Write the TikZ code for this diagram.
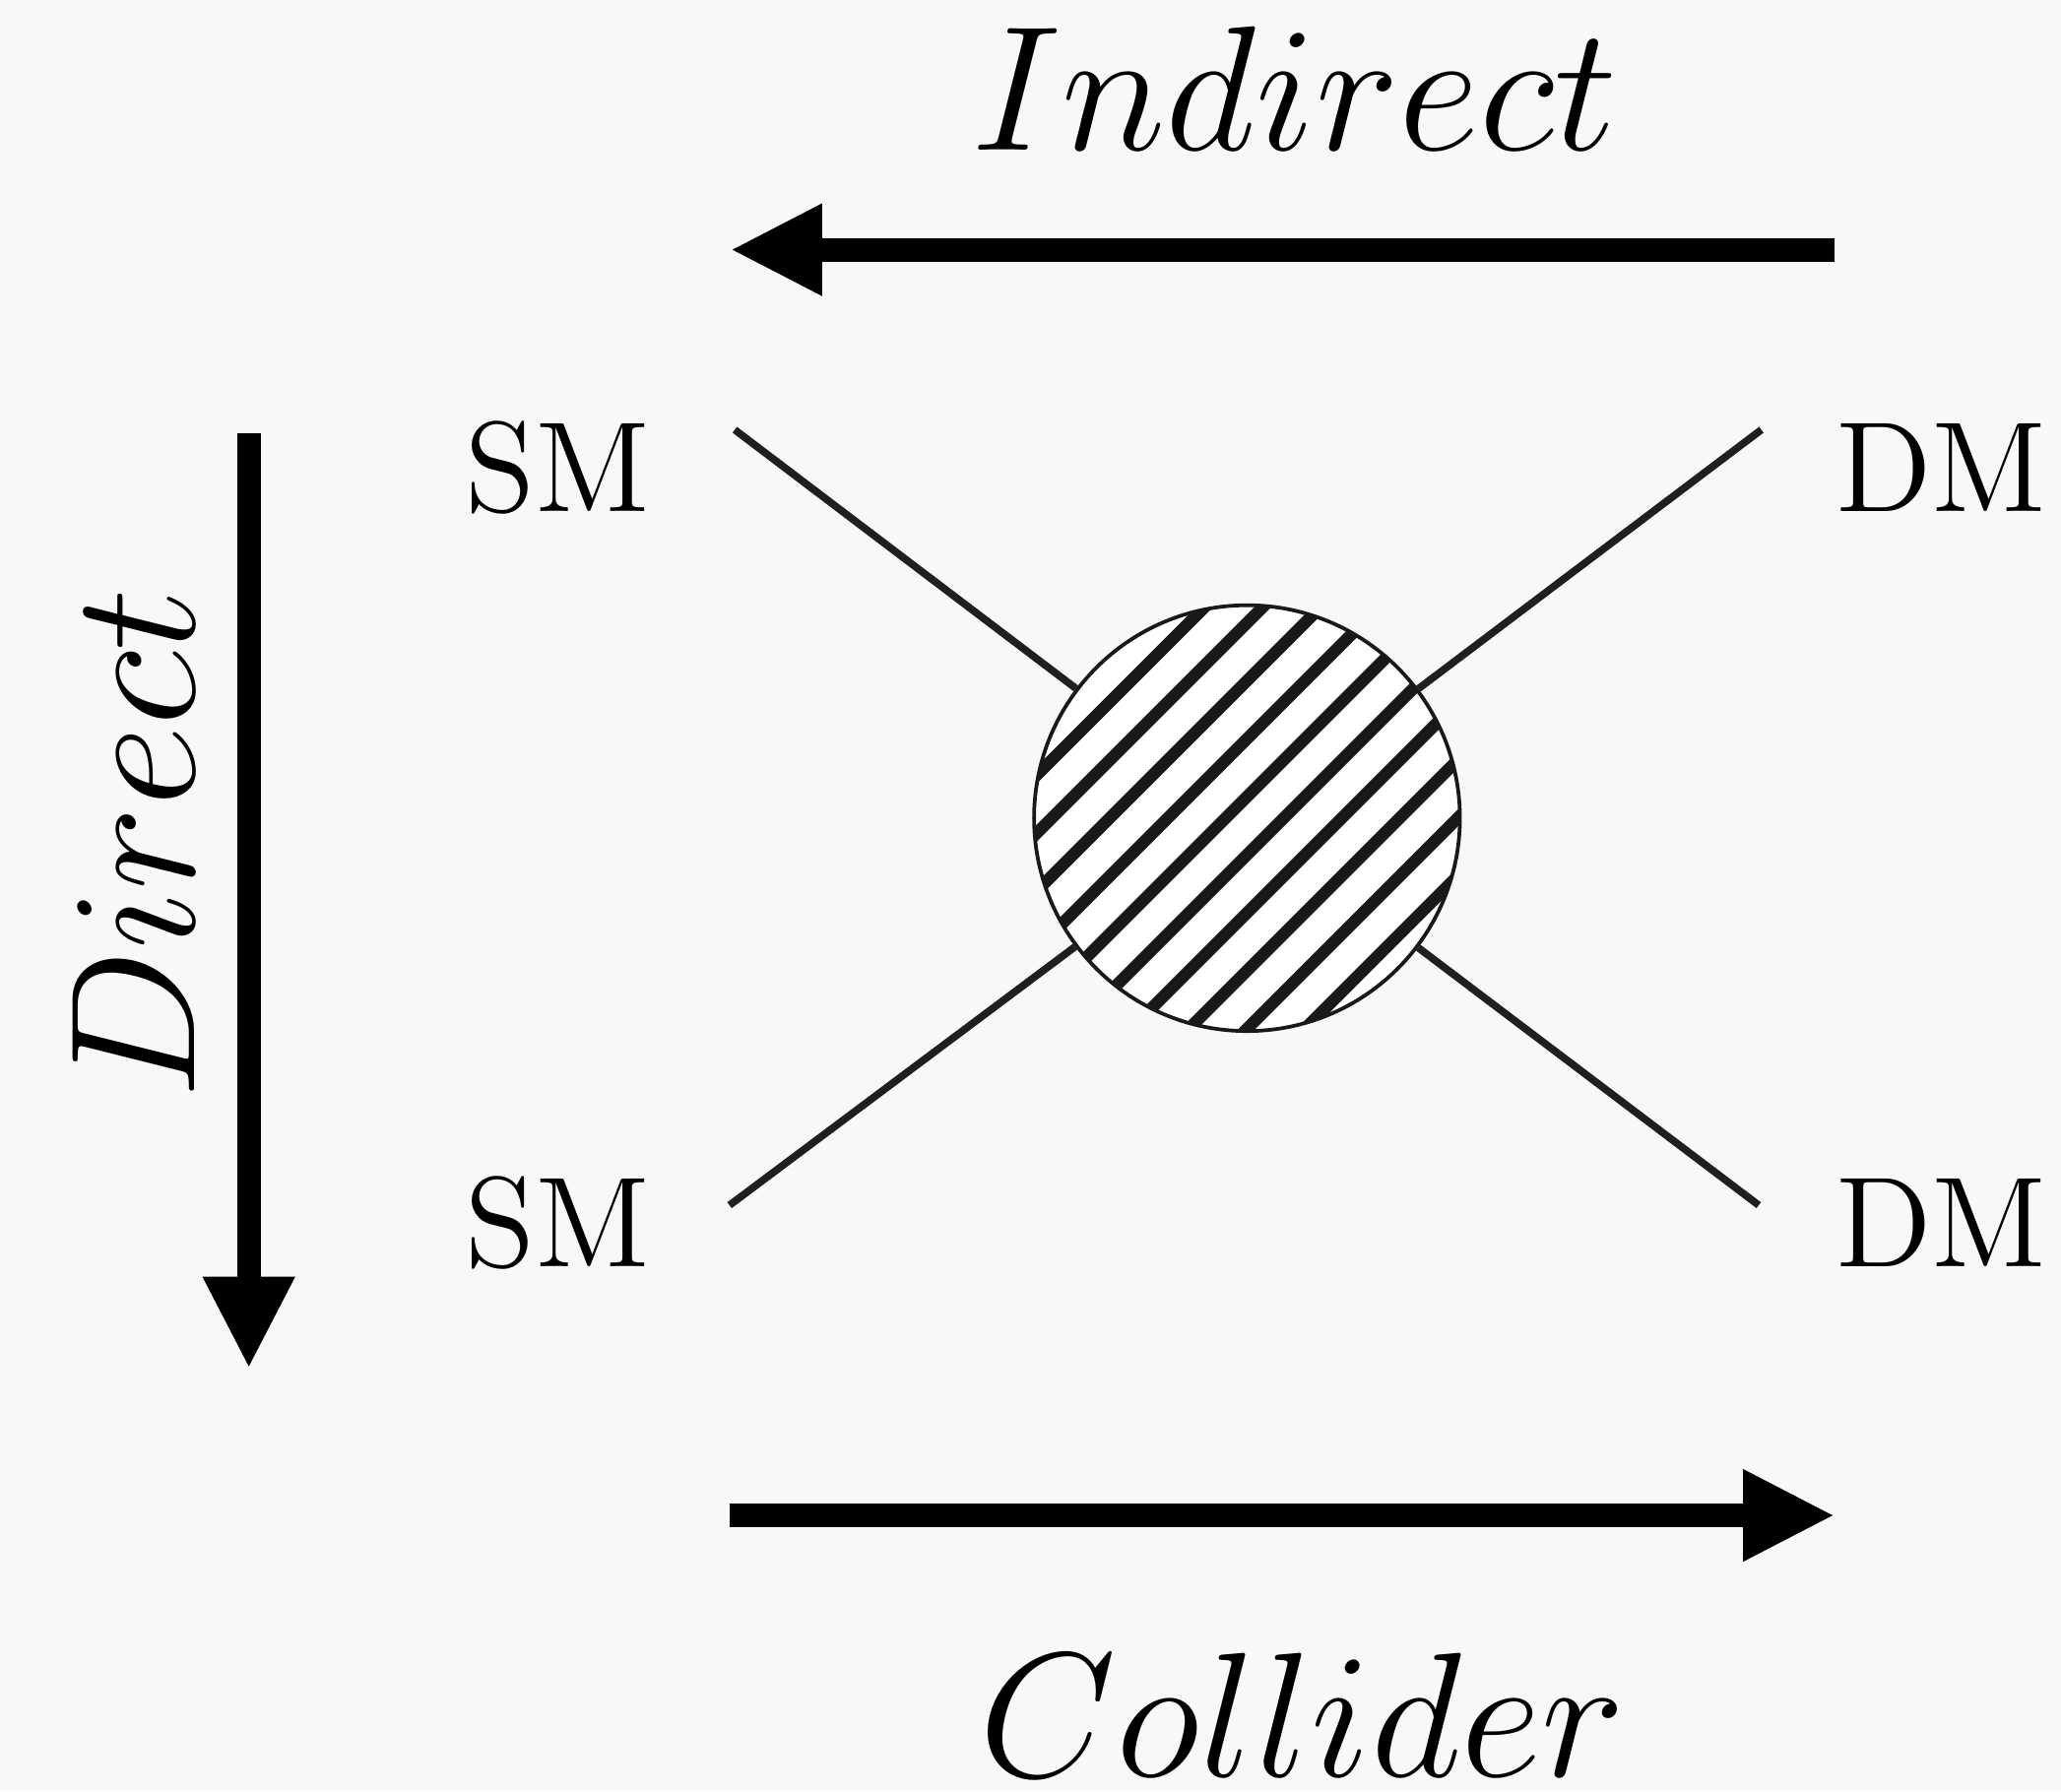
\documentclass[tikz,border=0pt]{standalone}
\usepackage{amsmath}
\usepackage{xcolor}
\usetikzlibrary{arrows.meta}
\usetikzlibrary{calc}

% scalable fonts for the big labels
\DeclareFontShape{OML}{cmm}{m}{it}{<->cmmi12}{}
\font\partfont=cmr12 at 27.8pt

\definecolor{paper}{RGB}{248,248,246}

\begin{document}
\begin{tikzpicture}[>={Triangle[length=7mm, width=6.5mm]}, line cap=butt,
    bigarrow/.style={->, line width=1.8mm},
    leg/.style={line width=1.6pt, black!88},
    hatch/.style={line width=2.6pt},
    particle/.style={font=\partfont, anchor=base, inner sep=0pt},
    process/.style={font=\fontsize{38.5}{46}\selectfont, anchor=base, inner sep=0pt}]

    \fill[paper] (0,0) rectangle (15.68,-13.63);
    \useasboundingbox (0,0) rectangle (15.68,-13.63);

    % the blob with its stripes
    \node[circle, draw=black!90, line width=0.8pt, fill=white, minimum size=3.24cm, inner sep=0pt,
        path picture={
            \foreach \k in {0,...,9} {
                \pgfmathsetmacro{\d}{-1.363+0.312*\k}
                \draw[hatch] ($(path picture bounding box.center)+(-45:\d)+(225:2)$) -- ++(45:4);
            }
        }] (blob) at (9.487,-6.225) {};

    % leg ends
    \coordinate (sm-top) at (5.59,-3.27);
    \coordinate (dm-top) at (13.40,-3.27);
    \coordinate (sm-bot) at (5.55,-9.17);
    \coordinate (dm-bot) at (13.38,-9.17);

    \draw[leg] (sm-top) -- (blob);
    \draw[leg] (dm-top) -- (blob);
    \draw[leg] (sm-bot) -- (blob);
    \draw[leg] (dm-bot) -- (blob);

    \node[particle] (sm1) at (4.245,-3.895) {SM};
    \node[particle] (dm1) at (14.77,-3.895) {DM};
    \node[particle] (sm2) at (4.245,-9.64) {SM};
    \node[particle] (dm2) at (14.77,-9.64) {DM};

    % the three arrows
    \coordinate (ind-start) at (13.96,-1.90);
    \coordinate (ind-end) at (5.555,-1.90);
    \coordinate (dir-start) at (1.893,-3.30);
    \coordinate (dir-end) at (1.893,-10.414);
    \coordinate (col-start) at (5.55,-11.53);
    \coordinate (col-end) at (13.96,-11.53);

    \draw[bigarrow] (ind-start) -- (ind-end);
    \draw[bigarrow] (dir-start) -- (dir-end);
    \draw[bigarrow] (col-start) -- (col-end);

    \node[process] (indirect) at (9.85,-1.14) {$Indirect$};
    \node[process, rotate=90] (direct) at (1.48,-6.42) {$Direct$};
    \node[process] (collider) at (9.91,-13.52) {$Collider$};

\end{tikzpicture}
\end{document}
